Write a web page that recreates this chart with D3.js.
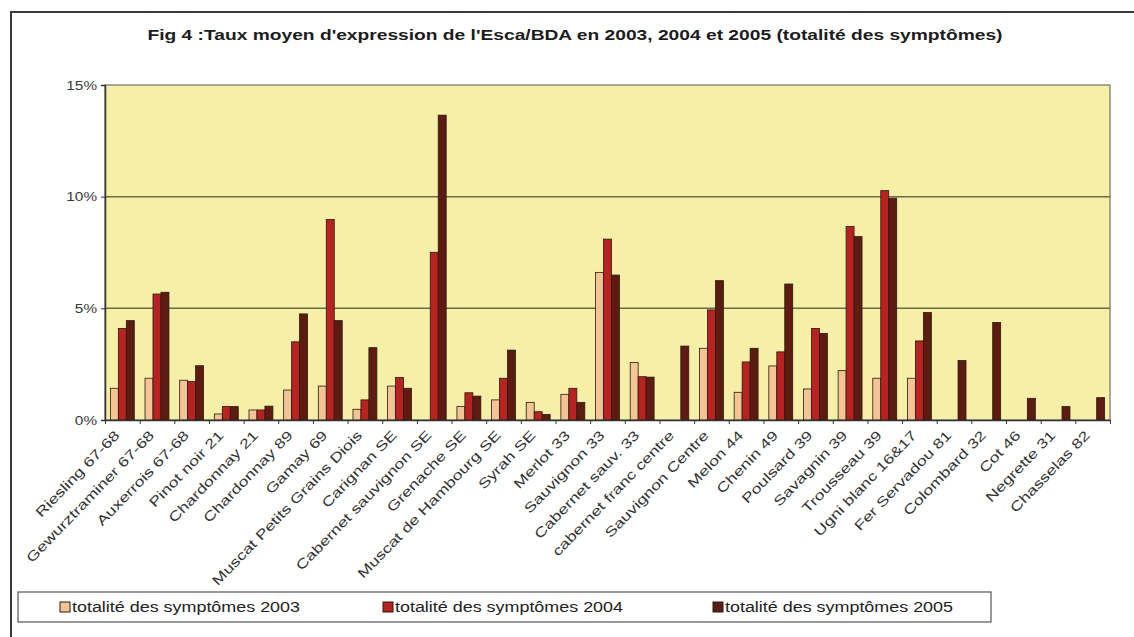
<!DOCTYPE html>
<html>
<head>
<meta charset="utf-8">
<script src="https://cdn.jsdelivr.net/npm/d3@7"></script>
<style>
  body { margin: 0; background: #ffffff; }
  svg { display: block; }
  text { font-family: "Liberation Sans", Arial, sans-serif; }
</style>
</head>
<body>
<svg id="chart" width="1134" height="637"></svg>
<script>
// Taux moyen d'expression de l'Esca/BDA par cépage et vignoble (en %)
const categories = [
  "Riesling 67-68", "Gewurztraminer 67-68", "Auxerrois 67-68", "Pinot noir 21",
  "Chardonnay 21", "Chardonnay 89", "Gamay 69", "Muscat Petits Grains Diois",
  "Carignan SE", "Cabernet sauvignon SE", "Grenache SE", "Muscat de Hambourg SE",
  "Syrah SE", "Merlot 33", "Sauvignon 33", "Cabernet sauv. 33",
  "cabernet franc centre", "Sauvignon Centre", "Melon 44", "Chenin 49",
  "Poulsard 39", "Savagnin 39", "Trousseau 39", "Ugni blanc 16&17",
  "Fer Servadou 81", "Colombard 32", "Cot 46", "Negrette 31", "Chasselas 82"
];

const values2003 = [
  1.42, 1.87, 1.78, 0.27, 0.45, 1.34, 1.52, 0.48, 1.52, null,
  0.60, 0.90, 0.79, 1.15, 6.61, 2.57, null, 3.21, 1.24, 2.42,
  1.39, 2.21, 1.87, 1.87, null, null, null, null, null
];
const values2004 = [
  4.10, 5.64, 1.72, 0.60, 0.45, 3.50, 8.98, 0.90, 1.90, 7.51,
  1.22, 1.87, 0.37, 1.42, 8.10, 1.94, null, 4.93, 2.60, 3.05,
  4.10, 8.66, 10.27, 3.54, null, null, null, null, null
];
const values2005 = [
  4.45, 5.72, 2.43, 0.60, 0.62, 4.75, 4.45, 3.24, 1.42, 13.65,
  1.07, 3.13, 0.25, 0.79, 6.49, 1.92, 3.31, 6.24, 3.21, 6.09,
  3.88, 8.21, 9.93, 4.81, 2.66, 4.37, 0.97, 0.60, 1.00
];

const seriesNames = [
  "totalité des symptômes 2003",
  "totalité des symptômes 2004",
  "totalité des symptômes 2005"
];
const seriesColors = ["#f3c594", "#b82220", "#5e1b12"];
const yTickValues = [0, 5, 10, 15];
const chartTitle = "Fig 4 :Taux moyen d'expression de l'Esca/BDA en 2003, 2004 et 2005 (totalité des symptômes)";

const seriesValues = [values2003, values2004, values2005];

// ---- layout ----
const plot = { left: 105, right: 1110, top: 85, bottom: 420 };
const svg = d3.select("#chart");

const x0 = d3.scaleBand()
  .domain(categories)
  .range([plot.left, plot.right])
  .paddingInner(0.31)
  .paddingOuter(0.155);

const x1 = d3.scaleBand()
  .domain(d3.range(seriesNames.length))
  .range([0, x0.bandwidth()]);

const y = d3.scaleLinear().domain([0, 15]).range([plot.bottom, plot.top]);

// outer frame (top and left edges)
svg.append("path")
  .attr("d", "M11,637 V12 H1134")
  .attr("fill", "none")
  .attr("stroke", "#3a3a3a")
  .attr("stroke-width", 2);

// title
svg.append("text")
  .attr("x", 575).attr("y", 40)
  .attr("text-anchor", "middle")
  .attr("font-size", 15)
  .attr("font-weight", "bold")
  .attr("fill", "#1c1c1c")
  .attr("textLength", 855)
  .attr("lengthAdjust", "spacingAndGlyphs")
  .text(chartTitle);

// plot background
svg.append("rect")
  .attr("x", plot.left).attr("y", plot.top)
  .attr("width", plot.right - plot.left)
  .attr("height", plot.bottom - plot.top)
  .attr("fill", "#f5efa8")
  .attr("stroke", "#8c8c80")
  .attr("stroke-width", 1.5);

// horizontal gridlines
svg.append("g")
  .selectAll("line")
  .data(yTickValues.filter(v => v > 0 && v < 15))
  .join("line")
  .attr("x1", plot.left).attr("x2", plot.right)
  .attr("y1", d => y(d)).attr("y2", d => y(d))
  .attr("stroke", "#6d6b48")
  .attr("stroke-width", 1.5);

// bars
const groups = svg.append("g")
  .selectAll("g")
  .data(categories)
  .join("g")
  .attr("transform", d => `translate(${x0(d)},0)`);

groups.selectAll("rect")
  .data((d, i) => seriesValues.map((vals, s) => ({ s, v: vals[i] })).filter(o => o.v != null))
  .join("rect")
  .attr("x", d => x1(d.s))
  .attr("y", d => y(d.v))
  .attr("width", x1.bandwidth())
  .attr("height", d => y(0) - y(d.v))
  .attr("fill", d => seriesColors[d.s])
  .attr("stroke", "#2a1a10")
  .attr("stroke-width", 0.8);

// y axis
const yAxis = svg.append("g")
  .attr("transform", `translate(${plot.left},0)`)
  .call(d3.axisLeft(y).tickValues(yTickValues).tickFormat(d => d + "%").tickSize(4).tickPadding(4));
yAxis.select(".domain").attr("stroke", "#333").attr("stroke-width", 1.5);
yAxis.selectAll(".tick line").attr("stroke", "#333");
yAxis.selectAll(".tick text")
  .attr("font-size", 13)
  .attr("fill", "#3a3a3a")
  .attr("font-family", "Liberation Sans, Arial, sans-serif")
  .attr("transform", function () {
    const xx = +d3.select(this).attr("x");
    return `translate(${xx},0) scale(1.18,1) translate(${-xx},0)`;
  });

// x axis: ticks between categories
const xBoundary = d3.scaleLinear().domain([0, categories.length]).range([plot.left, plot.right]);
const xAxis = svg.append("g")
  .attr("transform", `translate(0,${plot.bottom})`)
  .call(d3.axisBottom(xBoundary).tickValues(d3.range(categories.length + 1)).tickFormat("").tickSize(4).tickSizeOuter(0));
xAxis.select(".domain").attr("stroke", "#333").attr("stroke-width", 1.5);
xAxis.selectAll(".tick line").attr("stroke", "#333");

// rotated category labels
svg.append("g")
  .selectAll("text")
  .data(categories)
  .join("text")
  .attr("transform", d => `translate(${x0(d) + x0.bandwidth() / 2 - 2},${plot.bottom + 16}) rotate(-46) scale(1.32,1)`)
  .attr("text-anchor", "end")
  .attr("font-size", 13.5)
  .attr("fill", "#333")
  .text(d => d);

// legend
const legend = svg.append("g");
legend.append("rect")
  .attr("x", 18).attr("y", 592)
  .attr("width", 973).attr("height", 30)
  .attr("fill", "#ffffff")
  .attr("stroke", "#555")
  .attr("stroke-width", 1.2);

const legendX = [60, 383, 713];
const items = legend.selectAll("g.item")
  .data(seriesNames)
  .join("g")
  .attr("class", "item")
  .attr("transform", (d, i) => `translate(${legendX[i]},0)`);
items.append("rect")
  .attr("x", 0).attr("y", 602)
  .attr("width", 10).attr("height", 10)
  .attr("fill", (d, i) => seriesColors[i])
  .attr("stroke", "#2a1a10")
  .attr("stroke-width", 1);
items.append("text")
  .attr("x", 12).attr("y", 612)
  .attr("font-size", 14)
  .attr("fill", "#222")
  .attr("textLength", 228)
  .attr("lengthAdjust", "spacingAndGlyphs")
  .text(d => d);
</script>
</body>
</html>
